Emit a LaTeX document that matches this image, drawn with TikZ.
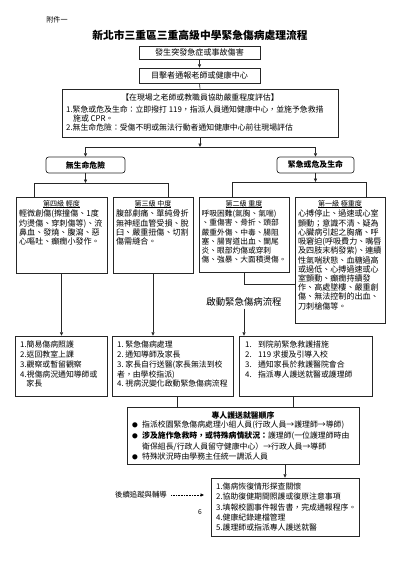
\documentclass[tikz,border=0pt]{standalone}
\usepackage{fontspec}
\setmainfont{Noto Sans CJK TC}
\usetikzlibrary{arrows.meta,fit,calc}
\newcommand{\bul}{\makebox[15pt][l]{\raisebox{0.5pt}{\fontsize{8.5}{8.5}\selectfont ●}}}
\begin{document}
\begin{tikzpicture}[x=1.4875pt,y=-1.4875pt,
  ln/.style={draw=black!85,line width=1pt},
  box/.style={ln,inner sep=0pt},
  rbox/.style={box,rounded corners=4pt},
  arr/.style={ln,-{Triangle[length=5pt,width=4.5pt]}},
  dotarr/.style={draw=black,line width=1.2pt,dash pattern=on 1.2pt off 1.2pt,-{Triangle[length=5pt,width=4.5pt]}},
  txt/.style={inner sep=0pt,align=left,font=\fontsize{11.7}{13.5}\selectfont},
  lvt/.style={inner sep=0pt,align=left,font=\fontsize{12}{13.7}\selectfont,anchor=north west},
  lvh/.style={inner sep=0pt,font=\fontsize{10.5}{12}\selectfont},
]
\useasboundingbox (0,0) rectangle (400,566);

% header
\node[inner sep=0pt,font=\fontsize{10.5}{12}\selectfont] (att) at (57,20) {附件一};
\node[inner sep=0pt,font=\fontsize{16}{18}\selectfont\bfseries] (title) at (200,35) {新北市三重區三重高級中學緊急傷病處理流程};

% top boxes
\node[box,fit={(139,46) (260,59)}] (b1) {};
\node[txt,font=\fontsize{12}{14}\selectfont] (b1t) at (b1.center) {發生突發急症或事故傷害};
\node[box,fit={(139,68) (260,83)}] (b2) {};
\node[txt,font=\fontsize{12}{14}\selectfont] (b2t) at (b2.center) {目擊者通報老師或健康中心};

\node[box,fit={(62,89) (338,137)}] (b3) {};
\node[txt] (b3h) at (200,98) {【在現場之老師或教職員協助嚴重程度評估】};
\node[txt,anchor=north west] (b3t) at (66,106) {1.緊急或危及生命：立即撥打 119，指派人員通知健康中心，並施予急救措\\\hspace*{0.9em}施或 CPR。\\2.無生命危險：受傷不明或無法行動者通知健康中心前往現場評估};

% severity
\node[rbox,fit={(46,157) (125,173)}] (nolife) {};
\node[txt,font=\fontsize{11.7}{13}\selectfont\bfseries] (nolifet) at (nolife.center) {無生命危險};
\node[rbox,fit={(277,157) (354,173)}] (danger) {};
\node[txt,font=\fontsize{11.7}{13}\selectfont\bfseries] (dangert) at (danger.center) {緊急或危及生命};

% level boxes
\node[box,fit={(16,197) (107,273)}] (l4) {};
\node[lvh] (l4h) at (61.5,204) {\underline{第四級\ 輕度}};
\node[lvt] (l4t) at (19,210) {輕微創傷(擦撞傷、1度\\灼燙傷、穿刺傷等)、流\\鼻血、發燒、腹瀉、惡\\心嘔吐、癲癇小發作。};

\node[box,fit={(113,197) (193,273)}] (l3) {};
\node[lvh] (l3h) at (153,204) {\underline{第三級\ 中度}};
\node[lvt] (l3t) at (116,210) {腹部劇痛、單純骨折\\無神經血管受損、脫\\臼、嚴重扭傷、切割\\傷需縫合。};

\node[box,fit={(199,197) (289,272)}] (l2) {};
\node[lvh] (l2h) at (244,204) {\underline{第二級\ 重度}};
\node[lvt,font=\fontsize{11.5}{13.7}\selectfont] (l2t) at (201.5,210) {呼吸困難(氣胸、氣喘)\\、重傷害、骨折、頭部\\嚴重外傷、中毒、腸阻\\塞、腸胃道出血、闌尾\\炎、眼部灼傷或穿刺\\傷、強暴、大面積燙傷。};

\node[box,fit={(295,197) (385,323)}] (l1) {};
\node[lvh] (l1h) at (340,204) {\underline{第一級\ 極重度}};
\node[lvt] (l1t) at (298,210) {心搏停止、過速或心室\\顫動；意識不清、疑為\\心臟病引起之胸痛、呼\\吸窘迫(呼吸費力、嘴唇\\及四肢末梢發紫)、連續\\性氣喘狀態、血糖過高\\或過低、心搏過速或心\\室顫動、癲癇持續發\\作、高處墜樓、嚴重創\\傷、無法控制的出血、\\刀刺槍傷等。};

% action boxes
\node[box,fit={(15,336) (107,396)}] (bA) {};
\node[txt,anchor=north west,font=\fontsize{11.7}{14.5}\selectfont] (bAt) at (20,341) {1.簡易傷病照護\\2.返回教室上課\\3.觀察或暫留觀察\\4.視傷病況通知導師或\\\hspace*{0.8em}家長};

\node[box,fit={(112,336) (233,396)}] (bB) {};
\node[txt,anchor=north west,font=\fontsize{11.7}{14.5}\selectfont] (bBt) at (117,341) {1.\ 緊急傷病處理\\2.\ 通知導師及家長\\3.\ 家長自行送醫(家長無法到校\\者，由學校指派)\\4.\ 視病況變化啟動緊急傷病流程};

\node[box,fit={(239,336) (372,396)}] (bC) {};
\node[txt,anchor=north west,font=\fontsize{11.7}{14.5}\selectfont] (bCt) at (245,341) {\makebox[19.3pt][l]{1.}到院前緊急救護措施\\\makebox[19.3pt][l]{2.}119 求援及引導入校\\\makebox[19.3pt][l]{3.}通知家長於救護醫院會合\\\makebox[19.3pt][l]{4.}指派專人護送就醫或護理師};

% escort box
\node[box,fit={(127,407) (359,464)}] (D) {};
\node[txt,font=\fontsize{11.7}{13}\selectfont\bfseries] (Dh) at (243,415) {專人護送就醫順序};
\node[txt,anchor=north west,font=\fontsize{11.7}{15.9}\selectfont] (Dt) at (132,421) {\bul 指派校園緊急傷病處理小組人員(行政人員→護理師→導師)\\\bul\textbf{涉及施作急救時，或特殊病情狀況：}護理師(一位護理師時由\\\hspace*{15pt}衛保組長/行政人員留守健康中心）→行政人員→導師\\\bul 特殊狀況時由學務主任統一調派人員};

% follow-up box
\node[box,fit={(211,478) (359,536)}] (E) {};
\node[txt,anchor=north west,font=\fontsize{11.7}{15.2}\selectfont] (Et) at (216,483) {1.傷病恢復情形探查關懷\\2.協助復健期間照護或復原注意事項\\3.填報校園事件報告書，完成通報程序。\\4.健康紀錄建檔管理\\5.護理師或指派專人護送就醫};

\node[inner sep=2pt,font=\fontsize{11}{13}\selectfont] (fu) at (141,495) {後續追蹤與輔導};
\node[inner sep=0pt,font=\fontsize{10}{12}\selectfont] (pg) at (200,512) {6};

% connectors
\draw[arr] (b1.south) -- (b2.north);
\draw[ln] (b2.south) -- (b3.north);
\coordinate (j1) at (200,147);
\draw[arr] (b3.south) -- (j1);
\draw[arr] (j1) -| (nolife.north);
\draw[arr] (j1) -| (danger.north);

\coordinate (j2) at (nolife.south |- 0,183);
\draw[arr] (nolife.south) -- (j2);
\coordinate (t4) at (34,197);
\coordinate (t3) at (168,197);
\draw[ln] (t4) -- (t4 |- j2) -- (t3 |- j2) -- (t3);

\coordinate (j3) at (danger.south |- 0,182);
\draw[arr] (danger.south) -- (j3);
\coordinate (t2) at (232,197);
\coordinate (t1) at (366,197);
\draw[ln] (t2) -- (t2 |- j3) -- (t1 |- j3) -- (t1);

\draw[arr] (l4.south) -- (l4.south |- bA.north);
\draw[arr] (l3.south) -- (l3.south |- bB.north);
\coordinate (j4) at (l2.south |- 0,284);
\draw[ln] (l2.south) -- (j4) -- (j4 -| l1.west);
\node[inner sep=3pt,font=\fontsize{14}{16}\selectfont] (go) at (l2.south |- 0,302) {啟動緊急傷病流程};
\draw[arr] (go.south) -- (go.south |- bC.north);

\coordinate (dB) at (177,407);
\coordinate (dC) at (293,407);
\draw[ln] (bB.south -| dB) -- (dB);
\draw[ln] (bC.south -| dC) -- (dC);
\draw[arr] (D.south -| E.north) -- (E.north);
\draw[dotarr,shorten <=4pt,shorten >=10pt] (fu.east) -- (fu.east -| E.west);
\end{tikzpicture}
\end{document}
